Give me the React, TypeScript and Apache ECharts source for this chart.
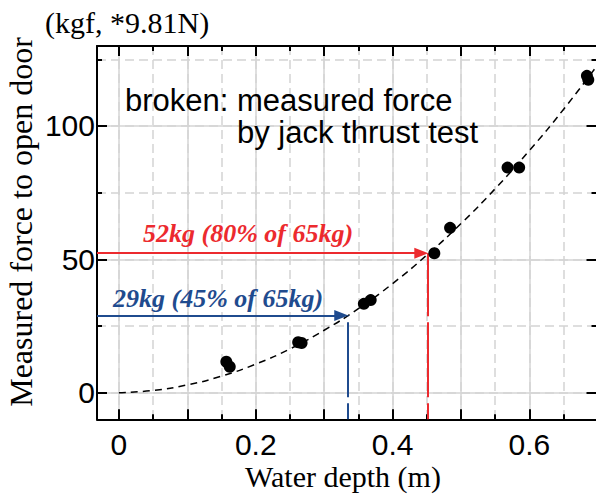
import React, { useEffect, useRef } from 'react';
import * as echarts from 'echarts';

// ---- data ----
const X_MIN = -0.032;
const X_MAX = 0.698;
const Y_MIN = -10;
const Y_MAX = 130;
const X_TICK_LABELS = ['0', '0.2', '0.4', '0.6'];
const Y_TICK_LABELS = ['0', '50', '100'];

const depth = [0.157, 0.162, 0.262, 0.267, 0.358, 0.368, 0.461, 0.484, 0.568, 0.585, 0.684, 0.686];
const force = [11.6, 9.7, 18.9, 18.6, 33.3, 34.7, 52.3, 61.8, 84.4, 84.4, 118.8, 117.3];

const fitDepth = [0, 0.05, 0.1, 0.15, 0.2, 0.25, 0.3, 0.35, 0.4, 0.45, 0.5, 0.55, 0.6, 0.65, 0.7];
const fitForce = [0, 0.8, 2.9, 6.2, 10.7, 16.4, 23.4, 31.5, 40.9, 51.6, 63.4, 76.5, 90.8, 106.3, 123.0];

const redArrow = [0.452, 52.3];
const blueArrow = [0.335, 28.9];
const ARROW_BACK = 0.01;

const RED = '#ec2a2e';
const BLUE = '#1f4b8e';
const GRID_C = '#d4d4d4';
const SANS = '"Liberation Sans", Arial, sans-serif';
const SERIF = '"Liberation Serif", "Times New Roman", serif';

function labelFor(list: string[], v: number) {
  for (const s of list) {
    if (Math.abs(parseFloat(s) - v) < 1e-6) return s;
  }
  return '';
}

function xAxisDef(pos: 'top' | 'bottom', major: boolean) {
  const step = major ? 0.1 : 0.05;
  return {
    type: 'value',
    min: X_MIN,
    max: X_MAX,
    position: pos,
    minInterval: step,
    maxInterval: step,
    axisLine: { show: major, onZero: false, lineStyle: { color: '#000', width: 2 } },
    axisTick: { show: true, inside: true, length: major ? 10 : 5, lineStyle: { color: '#000', width: 2 } },
    axisLabel: {
      show: major && pos === 'bottom',
      margin: 10,
      color: '#000',
      fontSize: 30,
      fontFamily: SANS,
      formatter: (v: number) => labelFor(X_TICK_LABELS, v),
    },
    splitLine: {
      show: pos === 'bottom',
      lineStyle: major ? { color: GRID_C, width: 1.5, type: 'solid' } : { color: GRID_C, width: 1.5, type: [9, 5] },
    },
  };
}

function yAxisDef(pos: 'left' | 'right', major: boolean) {
  const step = major ? 50 : 25;
  return {
    type: 'value',
    min: Y_MIN,
    max: Y_MAX,
    position: pos,
    minInterval: step,
    maxInterval: step,
    axisLine: { show: major, onZero: false, lineStyle: { color: '#000', width: 2 } },
    axisTick: { show: true, inside: true, length: major ? 10 : 5, lineStyle: { color: '#000', width: 2 } },
    axisLabel: {
      show: major && pos === 'left',
      margin: 2,
      color: '#000',
      fontSize: 30,
      fontFamily: SANS,
      formatter: (v: number) => labelFor(Y_TICK_LABELS, v),
    },
    splitLine: {
      show: pos === 'left',
      lineStyle: major ? { color: GRID_C, width: 1.5, type: 'solid' } : { color: GRID_C, width: 1.5, type: [9, 5] },
    },
  };
}

function txt(text: string, x: number, y: number, font: any, extra: any = {}) {
  return {
    type: 'text',
    x,
    y,
    z: 100,
    ...extra,
    style: {
      text,
      fill: font.color || '#000',
      fontSize: font.size,
      fontFamily: font.family,
      fontWeight: font.weight || 'normal',
      fontStyle: font.style || 'normal',
      align: font.align || 'left',
      textAlign: font.align || 'left',
      verticalAlign: 'middle',
      textVerticalAlign: 'middle',
    },
  };
}

export default function App() {
  const ref = useRef<HTMLDivElement>(null);
  useEffect(() => {
    if (!ref.current) return;
    const chart = echarts.init(ref.current, undefined, { renderer: 'svg' });
    const scatterData = depth.map((d, i) => [d, force[i]]);
    const fitData = fitDepth.map((d, i) => [d, fitForce[i]]);
    const vertStyle = (c: string) => ({ color: c, width: 2, type: [75, 6], dashOffset: 59 });
    chart.setOption({
      animation: false,
      backgroundColor: '#fff',
      grid: { left: 97, top: 46, width: 499.5, height: 373.3, containLabel: false, outerBoundsMode: 'none' },
      xAxis: [xAxisDef('bottom', false), xAxisDef('top', false), xAxisDef('bottom', true), xAxisDef('top', true)],
      yAxis: [yAxisDef('left', false), yAxisDef('right', false), yAxisDef('left', true), yAxisDef('right', true)],
      series: [
        {
          type: 'line',
          xAxisIndex: 2,
          yAxisIndex: 2,
          data: fitData,
          smooth: true,
          showSymbol: false,
          symbol: 'none',
          clip: true,
          lineStyle: { color: '#000', width: 1.5, type: [7, 5] },
          silent: true,
          z: 3,
        },
        {
          type: 'scatter',
          xAxisIndex: 2,
          yAxisIndex: 2,
          data: scatterData,
          symbol: 'circle',
          symbolSize: 12,
          itemStyle: { color: '#000', opacity: 1 },
          z: 5,
          markLine: {
            silent: true,
            animation: false,
            symbol: ['none', 'none'],
            label: { show: false },
            emphasis: { disabled: true },
            data: [
              [
                { coord: [redArrow[0], Y_MIN], lineStyle: vertStyle(RED) },
                { coord: [redArrow[0], redArrow[1]] },
              ],
              [
                { coord: [blueArrow[0], Y_MIN], lineStyle: vertStyle(BLUE) },
                { coord: [blueArrow[0], blueArrow[1]] },
              ],
              [
                { coord: [X_MIN, redArrow[1]], lineStyle: { color: RED, width: 2, type: 'solid' }, symbol: 'none' },
                { coord: [redArrow[0] - ARROW_BACK, redArrow[1]], symbol: 'triangle', symbolSize: [11, 14] },
              ],
              [
                { coord: [X_MIN, blueArrow[1]], lineStyle: { color: BLUE, width: 2, type: 'solid' }, symbol: 'none' },
                { coord: [blueArrow[0] - ARROW_BACK, blueArrow[1]], symbol: 'triangle', symbolSize: [11, 14] },
              ],
            ],
          },
        },
      ],
      graphic: [
        txt('(kgf, *9.81N)', 45, 22, { size: 30, family: SERIF }),
        txt('Measured force to open door', 21, 222, { size: 32, family: SERIF, align: 'center' }, { rotation: Math.PI / 2 }),
        txt('Water depth (m)', 343, 476, { size: 30, family: SERIF, align: 'center' }),
        txt('broken: measured force', 125, 100.5, { size: 31, family: SANS }),
        txt('by jack thrust test', 237, 132, { size: 31, family: SANS }),
        txt('52kg (80% of 65kg)', 143, 233, { size: 26, family: SERIF, weight: 'bold', style: 'italic', color: RED }),
        txt('29kg (45% of 65kg)', 113, 298.5, { size: 26, family: SERIF, weight: 'bold', style: 'italic', color: BLUE }),
      ],
    });
    return () => chart.dispose();
  }, []);
  return (
    <div
      ref={ref}
      style={{ position: 'absolute', left: 0, top: 0, width: 596, height: 497, background: '#fff' }}
    />
  );
}
